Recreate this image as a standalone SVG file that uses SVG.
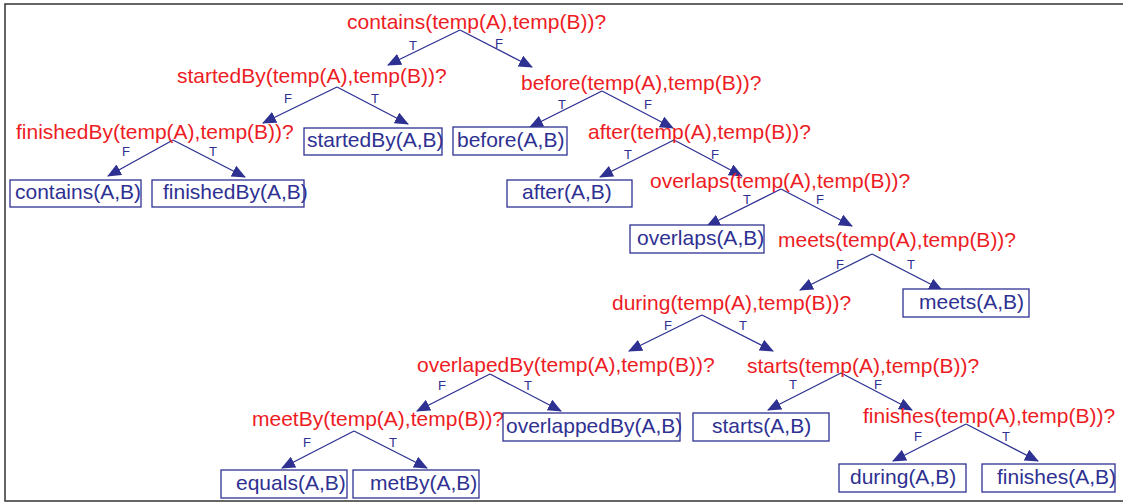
<svg xmlns="http://www.w3.org/2000/svg" width="1123" height="503" viewBox="0 0 1123 503">
<defs>
<style>
.q{font-family:"Liberation Sans",Arial,sans-serif;font-size:21px;fill:#ED1C24}
.r{font-family:"Liberation Sans",Arial,sans-serif;font-size:21px;fill:#2E3192}
.b{fill:#fff;stroke:#2E3192;stroke-width:1.3}
.l{font-family:"Liberation Sans",Arial,sans-serif;font-size:13px;fill:#2E3192;text-anchor:middle}
.c line{stroke:#2E3192;stroke-width:1.3;marker-end:url(#ah)}
</style>
<marker id="ah" markerUnits="userSpaceOnUse" markerWidth="14" markerHeight="12" refX="13" refY="6" orient="auto" viewBox="0 0 14 12">
<path d="M0,0 L14,6 L0,12 z" fill="#2E3192"/>
</marker>
</defs>
<rect x="5" y="4" width="1130" height="497" fill="#fff" stroke="#333" stroke-width="1.5"/>
<g class="c" id="connectors">
<line x1="460" y1="30" x2="388" y2="65"/>
<line x1="460" y1="30" x2="532" y2="67"/>
<line x1="337" y1="87" x2="263" y2="123"/>
<line x1="337" y1="87" x2="408" y2="124"/>
<line x1="173" y1="140" x2="108" y2="176"/>
<line x1="173" y1="140" x2="245" y2="177"/>
<line x1="602" y1="91" x2="530" y2="127"/>
<line x1="602" y1="91" x2="673" y2="128"/>
<line x1="674" y1="140" x2="600" y2="177"/>
<line x1="674" y1="140" x2="742" y2="176"/>
<line x1="781" y1="189" x2="707" y2="226"/>
<line x1="781" y1="189" x2="852" y2="226"/>
<line x1="872" y1="254" x2="800" y2="290"/>
<line x1="872" y1="254" x2="942" y2="290"/>
<line x1="702" y1="315" x2="629" y2="351"/>
<line x1="702" y1="315" x2="773" y2="351"/>
<line x1="490" y1="374" x2="417" y2="411"/>
<line x1="490" y1="374" x2="561" y2="411"/>
<line x1="354" y1="431" x2="282" y2="468"/>
<line x1="354" y1="431" x2="427" y2="468"/>
<line x1="841" y1="373" x2="768" y2="410"/>
<line x1="841" y1="373" x2="912" y2="410"/>
<line x1="966" y1="424" x2="893" y2="461"/>
<line x1="966" y1="424" x2="1038" y2="461"/>
<text class="l" x="413" y="50">T</text><text class="l" x="499" y="48">F</text>
<text class="l" x="288" y="103">F</text><text class="l" x="375" y="103">T</text>
<text class="l" x="126" y="156">F</text><text class="l" x="213" y="156">T</text>
<text class="l" x="562" y="109">T</text><text class="l" x="648" y="109">F</text>
<text class="l" x="628" y="159">T</text><text class="l" x="715" y="159">F</text>
<text class="l" x="747" y="204">T</text><text class="l" x="820" y="204">F</text>
<text class="l" x="840" y="269">F</text><text class="l" x="911" y="269">T</text>
<text class="l" x="668" y="330">F</text><text class="l" x="743" y="330">T</text>
<text class="l" x="442" y="390">F</text><text class="l" x="528" y="390">T</text>
<text class="l" x="307" y="447">F</text><text class="l" x="393" y="447">T</text>
<text class="l" x="793" y="389">T</text><text class="l" x="878" y="389">F</text>
<text class="l" x="918" y="441">F</text><text class="l" x="1006" y="441">T</text>
</g>
<g id="q-contains"><text class="q" x="347" y="29">contains(temp(A),temp(B))?</text></g>
<g id="q-startedBy"><text class="q" x="177" y="83">startedBy(temp(A),temp(B))?</text></g>
<g id="q-finishedBy"><text class="q" x="16" y="139">finishedBy(temp(A),temp(B))?</text></g>
<g id="q-before"><text class="q" x="521" y="90">before(temp(A),temp(B))?</text></g>
<g id="q-after"><text class="q" x="588" y="139">after(temp(A),temp(B))?</text></g>
<g id="q-overlaps"><text class="q" x="650" y="188">overlaps(temp(A),temp(B))?</text></g>
<g id="q-meets"><text class="q" x="778" y="247">meets(temp(A),temp(B))?</text></g>
<g id="q-during"><text class="q" x="612" y="310">during(temp(A),temp(B))?</text></g>
<g id="q-overlapedBy"><text class="q" x="417" y="372">overlapedBy(temp(A),temp(B))?</text></g>
<g id="q-meetBy"><text class="q" x="252" y="426">meetBy(temp(A),temp(B))?</text></g>
<g id="q-starts"><text class="q" x="747" y="373">starts(temp(A),temp(B))?</text></g>
<g id="q-finishes"><text class="q" x="863" y="423">finishes(temp(A),temp(B))?</text></g>
<g id="r-contains"><rect class="b" x="10" y="180" width="131" height="27"/><text class="r" x="15" y="199">contains(A,B)</text></g>
<g id="r-finishedBy"><rect class="b" x="152" y="180" width="152" height="27"/><text class="r" x="163" y="199">finishedBy(A,B)</text></g>
<g id="r-startedBy"><rect class="b" x="304" y="128" width="138" height="27"/><text class="r" x="307" y="147">startedBy(A,B)</text></g>
<g id="r-before"><rect class="b" x="453" y="127" width="114" height="28"/><text class="r" x="457" y="147">before(A,B)</text></g>
<g id="r-after"><rect class="b" x="507" y="180" width="125" height="27"/><text class="r" x="522" y="199">after(A,B)</text></g>
<g id="r-overlaps"><rect class="b" x="630" y="225" width="134" height="28"/><text class="r" x="637" y="245">overlaps(A,B)</text></g>
<g id="r-meets"><rect class="b" x="903" y="289" width="126" height="28"/><text class="r" x="919" y="309">meets(A,B)</text></g>
<g id="r-overlappedBy"><rect class="b" x="503" y="413" width="177" height="28"/><text class="r" x="506" y="433">overlappedBy(A,B)</text></g>
<g id="r-equals"><rect class="b" x="221" y="470" width="126" height="28"/><text class="r" x="236" y="490">equals(A,B)</text></g>
<g id="r-metBy"><rect class="b" x="353" y="470" width="126" height="28"/><text class="r" x="370" y="490">metBy(A,B)</text></g>
<g id="r-starts"><rect class="b" x="693" y="413" width="136" height="28"/><text class="r" x="712" y="433">starts(A,B)</text></g>
<g id="r-during"><rect class="b" x="839" y="464" width="127" height="28"/><text class="r" x="850" y="484">during(A,B)</text></g>
<g id="r-finishes"><rect class="b" x="982" y="464" width="133" height="28"/><text class="r" x="997" y="484">finishes(A,B)</text></g>
</svg>
